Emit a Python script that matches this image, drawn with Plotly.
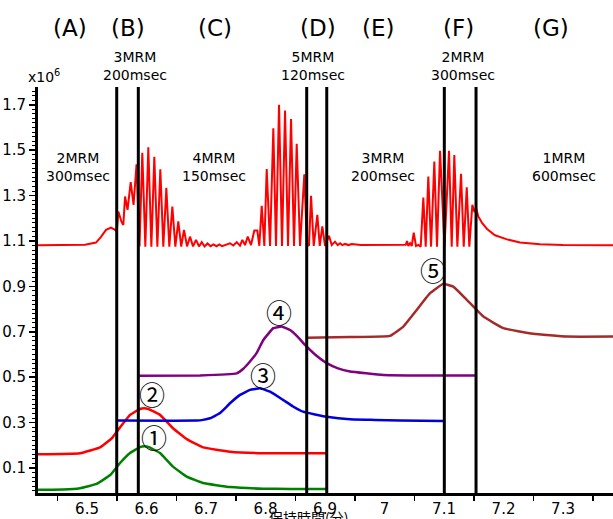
import plotly.graph_objects as go

# ---------------- data ----------------
# top trace (TIC-like, x10^6)
tic_t = [6.4143, 6.4546, 6.4966, 6.5151, 6.5235, 6.5319, 6.5403, 6.5471, 6.5499,
         6.5526, 6.5580, 6.5610, 6.5639, 6.5681, 6.5734, 6.5782, 6.5832, 6.5882,
         6.5929, 6.5980, 6.6030, 6.6081, 6.6131, 6.6182, 6.6232, 6.6282, 6.6333,
         6.6383, 6.6434, 6.6484, 6.6534, 6.6583, 6.6630, 6.6681, 6.6731, 6.6782,
         6.6832, 6.6882, 6.6928, 6.6975, 6.7025, 6.7076, 6.7126, 6.7176, 6.7227,
         6.7269, 6.7319, 6.7403, 6.7459, 6.7516, 6.7571, 6.7610, 6.7655, 6.7701,
         6.7756, 6.7812, 6.7862, 6.7896, 6.7936, 6.7980, 6.8020, 6.8076, 6.8131,
         6.8176, 6.8227, 6.8277, 6.8328, 6.8378, 6.8429, 6.8479, 6.8524, 6.8580,
         6.8652, 6.8697, 6.8731, 6.8765, 6.8810, 6.8871, 6.8911, 6.8955, 6.9000,
         6.9067, 6.9113, 6.9168, 6.9213, 6.9252, 6.9291, 6.9336, 6.9392, 6.9449,
         6.9600, 7.0000, 7.0316, 7.0356, 7.0378, 7.0400, 7.0429, 7.0457, 7.0491,
         7.0529, 7.0568, 7.0608, 7.0652, 7.0692, 7.0736, 7.0782, 7.0837, 7.0882,
         7.0933, 7.1008, 7.1084, 7.1129, 7.1173, 7.1224, 7.1286, 7.1331, 7.1382,
         7.1425, 7.1476, 7.1513, 7.1538, 7.1576, 7.1639, 7.1723, 7.1857, 7.2059,
         7.2277, 7.2613, 7.3000, 7.3840]
tic_v = [1.081, 1.081, 1.083, 1.093, 1.118, 1.149, 1.159, 1.149, 1.141,
         1.230, 1.184, 1.171, 1.296, 1.237, 1.359, 1.259, 1.438, 1.076,
         1.488, 1.075, 1.513, 1.075, 1.471, 1.075, 1.416, 1.075, 1.334,
         1.075, 1.252, 1.075, 1.186, 1.075, 1.149, 1.076, 1.119, 1.076,
         1.105, 1.076, 1.095, 1.076, 1.089, 1.077, 1.085, 1.077, 1.085,
         1.077, 1.083, 1.090, 1.080, 1.095, 1.079, 1.105, 1.082, 1.119,
         1.082, 1.146, 1.146, 1.079, 1.255, 1.078, 1.417, 1.078, 1.597,
         1.078, 1.700, 1.078, 1.675, 1.078, 1.637, 1.078, 1.528, 1.078,
         1.394, 1.078, 1.082, 1.299, 1.078, 1.215, 1.078, 1.164, 1.078,
         1.123, 1.082, 1.097, 1.082, 1.090, 1.082, 1.087, 1.082, 1.087,
         1.082, 1.082, 1.083, 1.083, 1.100, 1.078, 1.090, 1.078, 1.137,
         1.078, 1.083, 1.075, 1.291, 1.075, 1.384, 1.075, 1.450, 1.075,
         1.497, 1.075, 1.497, 1.075, 1.479, 1.075, 1.396, 1.075, 1.337,
         1.075, 1.259, 1.227, 1.246, 1.208, 1.180, 1.153, 1.125, 1.107,
         1.093, 1.086, 1.082, 1.081]

# compound 1 (green)
c1_t = [6.4143, 6.4600, 6.4882, 6.5160, 6.5390, 6.5555, 6.5723, 6.5891, 6.5960,
        6.6030, 6.6227, 6.6445, 6.6676, 6.6950, 6.7403, 6.7958, 6.8412, 6.9029]
c1_v = [0.004, 0.005, 0.011, 0.030, 0.069, 0.122, 0.166, 0.192, 0.196,
        0.193, 0.166, 0.106, 0.062, 0.034, 0.016, 0.009, 0.008, 0.008]

# compound 2 (red)
c2_t = [6.4143, 6.4882, 6.5218, 6.5415, 6.5555, 6.5723, 6.5891, 6.5958, 6.6030,
        6.6227, 6.6445, 6.6676, 6.6950, 6.7403, 6.7958, 6.8412, 6.9029]
c2_v = [0.160, 0.165, 0.191, 0.231, 0.279, 0.334, 0.360, 0.363, 0.360,
        0.334, 0.275, 0.227, 0.191, 0.172, 0.165, 0.165, 0.165]

# compound 3 (blue)
c3_t = [6.5509, 6.6844, 6.6950, 6.7067, 6.7235, 6.7403, 6.7571, 6.7739, 6.7908,
        6.8076, 6.8294, 6.8462, 6.8630, 6.8832, 6.9029, 6.9420, 6.9840, 7.0261, 7.1000]
c3_v = [0.309, 0.309, 0.312, 0.319, 0.342, 0.385, 0.422, 0.444, 0.451,
        0.436, 0.400, 0.371, 0.348, 0.336, 0.326, 0.315, 0.312, 0.309, 0.307]

# compound 4 (purple)
c4_t = [6.5862, 6.6899, 6.7516, 6.7622, 6.7739, 6.7852, 6.7963, 6.8131, 6.8272,
        6.8412, 6.8546, 6.8664, 6.8832, 6.9029, 6.9218, 6.9420, 6.9980, 7.0877, 7.1538]
c4_v = [0.506, 0.508, 0.517, 0.536, 0.569, 0.607, 0.664, 0.716, 0.723,
        0.708, 0.677, 0.642, 0.600, 0.562, 0.539, 0.525, 0.510, 0.507, 0.507]

# compound 5 (brown)
c5_t = [6.8692, 6.9420, 7.0092, 7.0316, 7.0541, 7.0765, 7.0988, 7.1156, 7.1382,
        7.1661, 7.1997, 7.2501, 7.3062, 7.3840]
c5_v = [0.674, 0.677, 0.682, 0.723, 0.796, 0.870, 0.911, 0.899, 0.841,
        0.767, 0.716, 0.691, 0.679, 0.679]

# MRM window boundaries (min)
boundaries = [6.5499, 6.5862, 6.8692, 6.9029, 7.1005, 7.1538]

# window letters and their centre times
window_labels = ["(A)", "(B)", "(C)", "(D)", "(E)", "(F)", "(G)"]
window_label_t = [6.4722, 6.5684, 6.7151, 6.8882, 6.9891, 7.1244, 7.2806]

# MRM settings text
mrm_top_text = ["3MRM<br>200msec", "5MRM<br>120msec", "2MRM<br>300msec"]
mrm_top_t = [6.5798, 6.8790, 7.1319]
mrm_in_text = ["2MRM<br>300msec", "4MRM<br>150msec", "3MRM<br>200msec", "1MRM<br>600msec"]
mrm_in_t = [6.4840, 6.7134, 6.9975, 7.3008]

peak_marks = ["①", "②", "③", "④", "⑤"]
peak_mark_t = [6.6121, 6.6092, 6.7963, 6.8227, 7.0810]
peak_mark_v = [0.241, 0.429, 0.510, 0.789, 0.976]

# ---------------- figure ----------------
fig = go.Figure()
series = [
    (c1_t, c1_v, "#008000", 2.5, True),
    (c2_t, c2_v, "#ff0000", 2.5, True),
    (c3_t, c3_v, "#0000dd", 2.5, True),
    (c4_t, c4_v, "#800080", 2.5, True),
    (c5_t, c5_v, "#a52a2a", 2.5, True),
    (tic_t, tic_v, "#ff0000", 2, False),
]
for t, v, col, w, smooth in series:
    line = dict(color=col, width=w)
    if smooth:
        line.update(shape="spline", smoothing=0.3)
    fig.add_trace(go.Scatter(x=t, y=v, mode="lines", line=line, hoverinfo="skip"))

for b in boundaries:
    fig.add_shape(type="line", xref="x", yref="paper", x0=b, x1=b, y0=0, y1=1,
                  line=dict(color="black", width=3))

ann = []
for lab, t in zip(window_labels, window_label_t):
    ann.append(dict(x=t, y=1.146, xref="x", yref="paper", text=lab, showarrow=False,
                    font=dict(size=23, color="black"), xanchor="center", yanchor="middle"))
for lab, t in zip(mrm_top_text, mrm_top_t):
    ann.append(dict(x=t, y=1.0505, xref="x", yref="paper", text=lab, showarrow=False,
                    font=dict(size=14, color="black"), xanchor="center", yanchor="middle"))
for lab, t in zip(mrm_in_text, mrm_in_t):
    ann.append(dict(x=t, y=0.804, xref="x", yref="paper", text=lab, showarrow=False,
                    font=dict(size=14, color="black"), xanchor="center", yanchor="middle"))
for lab, t, v in zip(peak_marks, peak_mark_t, peak_mark_v):
    ann.append(dict(x=t, y=v, xref="x", yref="y", text=lab, showarrow=False,
                    font=dict(size=26, color="black", family="Noto Sans CJK JP"),
                    xanchor="center", yanchor="middle"))
ann.append(dict(x=0.0104, y=1.027, xref="paper", yref="paper", text="x10<sup>6</sup>",
                showarrow=False, font=dict(size=14, color="black"),
                xanchor="center", yanchor="middle"))
ann.append(dict(x=0.4696, y=-0.058, xref="paper", yref="paper", text="保持時間(分)",
                showarrow=False, font=dict(size=14, color="black", family="Noto Sans CJK JP"),
                xanchor="center", yanchor="middle"))

fig.update_layout(
    width=613, height=519,
    margin=dict(l=38, r=0, t=87, b=26, pad=0, autoexpand=False),
    paper_bgcolor="white", plot_bgcolor="white",
    showlegend=False,
    font=dict(family="DejaVu Sans", color="black"),
    annotations=ann,
    xaxis=dict(range=[6.4176, 7.3840], tick0=6.5, dtick=0.1, ticks="",
               showgrid=False, zeroline=False,
               showline=True, linecolor="black", linewidth=3, automargin=False,
               tickfont=dict(size=15, color="black"),
               minor=dict(tick0=6.45, dtick=0.1, ticks="outside", ticklen=5,
                          tickcolor="black", tickwidth=1.5, showgrid=False)),
    yaxis=dict(range=[-0.0101, 1.7783], tick0=0.1, dtick=0.2, ticks="outside", ticklen=6,
               tickcolor="black", tickwidth=1.5, showgrid=False, zeroline=False,
               showline=True, linecolor="black", linewidth=3, automargin=False,
               tickfont=dict(size=15, color="black"),
               minor=dict(tick0=0.0, dtick=0.02, ticks="outside", ticklen=3,
                          tickcolor="black", tickwidth=1, showgrid=False)),
)

fig.write_html("out.html", config={"displayModeBar": False, "staticPlot": True},
               post_script="document.body.style.margin='0';document.body.style.overflow='hidden';")
